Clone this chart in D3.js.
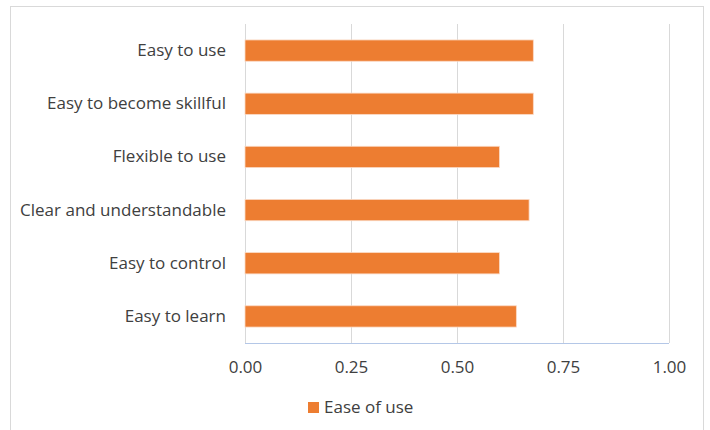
<!DOCTYPE html>
<html>
<head>
<meta charset="utf-8">
<script src="https://cdn.jsdelivr.net/npm/d3@7"></script>
<style>
  body { margin: 0; background: #fff; }
  text { font-family: "Open Sans", "Liberation Sans", sans-serif; fill: #404040; }
</style>
</head>
<body>
<svg class="chart"></svg>
<script>
var categories = ["Easy to use", "Easy to become skillful", "Flexible to use",
                  "Clear and understandable", "Easy to control", "Easy to learn"];
var values = [0.68, 0.68, 0.60, 0.67, 0.60, 0.64];
var tickValues = [0, 0.25, 0.5, 0.75, 1.0];
var seriesName = "Ease of use";

var W = 710, H = 430;
var margin = {top: 24, right: 41, bottom: 87, left: 245},
    width = W - margin.left - margin.right,
    height = H - margin.top - margin.bottom;

var svg = d3.select(".chart")
    .attr("width", W)
    .attr("height", H);

// outer chart border
svg.append("rect")
    .attr("x", 10.5).attr("y", 6.5)
    .attr("width", 693).attr("height", 440)
    .attr("fill", "none")
    .attr("stroke", "#d9d9d9");

var g = svg.append("g")
    .attr("transform", "translate(" + margin.left + "," + margin.top + ")");

var x = d3.scaleLinear().domain([0, 1]).range([0, width]);
var y = d3.scaleBand().domain(categories).range([0, height]).paddingInner(0.6).paddingOuter(0.3);

// gridlines
g.selectAll("line.grid")
    .data(tickValues)
  .enter().append("line")
    .attr("class", "grid")
    .attr("x1", function(d) { return Math.round(x(d)) + 0.5; })
    .attr("x2", function(d) { return Math.round(x(d)) + 0.5; })
    .attr("y1", 0)
    .attr("y2", height)
    .attr("stroke", "#d9d9d9")
    .attr("stroke-width", 1);

// bars
g.selectAll("rect.bar")
    .data(values)
  .enter().append("rect")
    .attr("class", "bar")
    .attr("x", x(0))
    .attr("y", function(d, i) { return y(categories[i]); })
    .attr("width", function(d) { return x(d) - x(0); })
    .attr("height", y.bandwidth())
    .attr("fill", "#ed7d31")
    .attr("stroke", "#fbd9c4")
    .attr("stroke-width", 0.8);

// bottom axis line
g.append("line")
    .attr("x1", 0).attr("x2", width)
    .attr("y1", height + 0.5).attr("y2", height + 0.5)
    .attr("stroke", "#b4c7e7");

// x axis labels
var xAxis = d3.axisBottom(x)
    .tickValues(tickValues)
    .tickSize(0)
    .tickPadding(18)
    .tickFormat(d3.format(".2f"));

var xa = g.append("g")
    .attr("transform", "translate(0," + height + ")")
    .call(xAxis);
xa.select(".domain").remove();
xa.selectAll("text")
    .attr("font-size", "17px")
    .attr("fill", "#404040")
    .style("font-family", "'Open Sans', sans-serif");

// y axis labels
var yAxis = d3.axisLeft(y).tickSize(0).tickPadding(19);
var ya = g.append("g").call(yAxis);
ya.select(".domain").remove();
ya.selectAll("text")
    .attr("font-size", "17px")
    .attr("fill", "#404040")
    .style("font-family", "'Open Sans', sans-serif");

// legend
var lg = svg.append("g").attr("transform", "translate(308,402)");
lg.append("rect")
    .attr("width", 11).attr("height", 11)
    .attr("fill", "#ed7d31");
lg.append("text")
    .attr("x", 16).attr("y", 5.5)
    .attr("dy", "0.35em")
    .attr("font-size", "17px")
    .text(seriesName);
</script>
</body>
</html>
